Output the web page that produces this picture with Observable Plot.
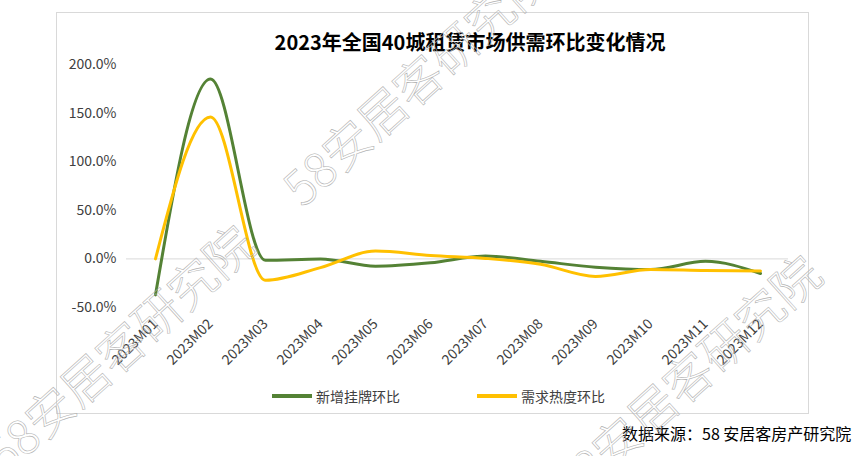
<!DOCTYPE html>
<html>
<head>
<meta charset="utf-8">
<script src="https://cdn.jsdelivr.net/npm/d3@7"></script>
<script src="https://cdn.jsdelivr.net/npm/@observablehq/plot@0.6"></script>
<style>
  html, body { margin: 0; padding: 0; background: #fff; }
  body { width: 858px; height: 456px; position: relative; overflow: hidden;
         font-family: "Noto Sans CJK SC", "Noto Sans", sans-serif; }
  #frame { position: absolute; left: 56px; top: 12px; width: 751px; height: 400px;
           border: 1px solid #d9d9d9; box-sizing: content-box; }
  #title { position: absolute; left: 0; width: 940px; top: 28px; text-align: center;
           font-size: 20px; font-weight: 700; color: #000; line-height: 28px; }
  #chart { position: absolute; left: 0; top: 0; }
  .legend { position: absolute; top: 386px; font-size: 14px; color: #404040; line-height: 20px;
            display: flex; align-items: center; }
  .legend .sw { width: 40px; height: 4px; margin-right: 4px; }
  #source { position: absolute; left: 622px; top: 422px; font-size: 16px; color: #000; line-height: 22px; white-space: nowrap; }
  .wm { position: absolute; font-size: 48px; font-weight: 300; color: transparent;
        -webkit-text-stroke: 0.6px #b3b3b3; white-space: nowrap; transform-origin: 0 100%;
        transform: rotate(-42deg); line-height: 1; pointer-events: none; }
</style>
</head>
<body>
<div id="frame"></div>
<div id="chart"></div>
<div id="title">2023年全国40城租赁市场供需环比变化情况</div>
<div class="legend" style="left:272px"><div class="sw" style="background:#548235"></div>新增挂牌环比</div>
<div class="legend" style="left:477px"><div class="sw" style="background:#FFC000"></div>需求热度环比</div>
<div id="source">数据来源：58 安居客房产研究院</div>
<div class="wm" style="left:305px; top:163px">58安居客研究院</div>
<div class="wm" style="left:8px; top:430px">58安居客研究院</div>
<div class="wm" style="left:575px; top:460px">58安居客研究院</div>
<script>
const months = ["2023M01","2023M02","2023M03","2023M04","2023M05","2023M06","2023M07","2023M08","2023M09","2023M10","2023M11","2023M12"];
const listingMoM = [-37, 185, -1.5, 0, -7.5, -4, 3, -2.5, -8.5, -11, -2.5, -15];
const demandMoM = [0, 146, -22, -9, 8, 3.5, 0.5, -5.5, -18, -11, -12, -12.5];
const seriesNames = ["新增挂牌环比", "需求热度环比"];
const yTicks = [-50, 0, 50, 100, 150, 200];

const rows = months.flatMap((m, i) => [
  {month: m, value: listingMoM[i], series: seriesNames[0]},
  {month: m, value: demandMoM[i], series: seriesNames[1]}
]);

const chart = Plot.plot({
  width: 858,
  height: 380,
  marginLeft: 126,
  marginRight: 70,
  marginTop: 64,
  marginBottom: 73,
  style: {fontFamily: "'Noto Sans CJK SC', 'Noto Sans', sans-serif", fontSize: "14px", color: "#404040", background: "transparent", overflow: "visible"},
  x: {type: "point", domain: months, padding: 0.5, label: null},
  y: {domain: [-50, 200], label: null},
  color: {domain: seriesNames, range: ["#548235", "#FFC000"]},
  marks: [
    Plot.ruleY([0], {stroke: "#d9d9d9", strokeWidth: 1}),
    Plot.axisY({ticks: yTicks, tickFormat: d => d.toFixed(1) + "%", tickSize: 0, tickPadding: 10, fontSize: 14}),
    Plot.axisX({tickRotate: -45, tickSize: 0, tickPadding: 14, fontSize: 14}),
    Plot.line(rows, {x: "month", y: "value", z: "series", stroke: "series", strokeWidth: 3, curve: "monotone-x"})
  ]
});
document.getElementById("chart").appendChild(chart);
</script>
</body>
</html>
